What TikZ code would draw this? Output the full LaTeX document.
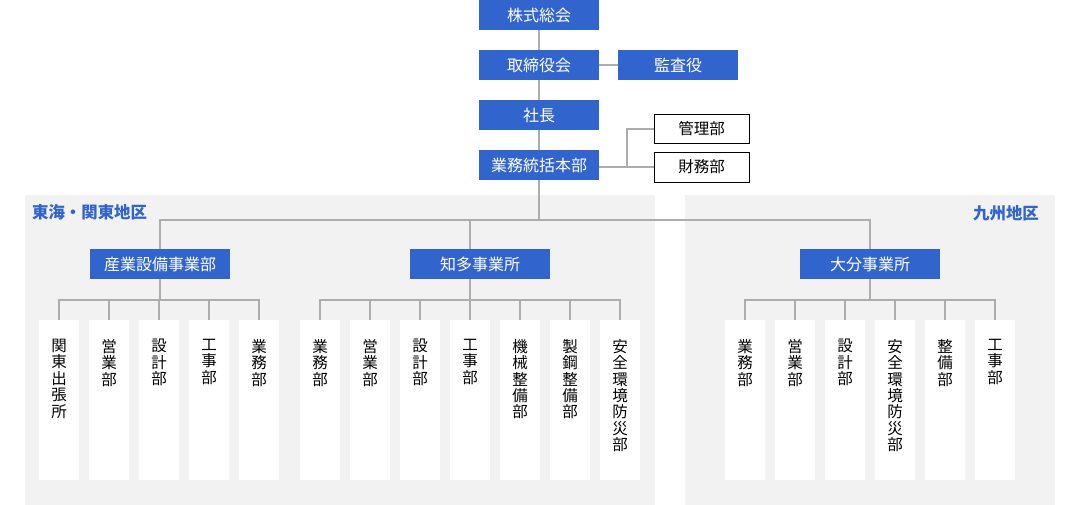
\documentclass[tikz,border=0pt]{standalone}
\usepackage{fontspec}
\newfontfamily\cjk{Noto Sans CJK JP}
\definecolor{boxblue}{RGB}{50,100,205}
\definecolor{regiongray}{RGB}{242,242,242}
\definecolor{linegray}{RGB}{173,173,173}
\pgfdeclarelayer{bg}
\pgfdeclarelayer{ln}
\pgfsetlayers{bg,ln,main}
\newcommand\kidtext[1]{\parbox[t][160pt][t]{40pt}{\centering\vspace*{19pt}#1}}
\tikzset{
  bluebox/.style={fill=boxblue, text=white, inner sep=0pt, minimum width=120pt,
    minimum height=30pt, font=\cjk\fontsize{16}{19}\selectfont},
  whitebox/.style={fill=white, draw=black, line width=0.8pt, inner sep=0pt,
    minimum width=95pt, minimum height=29pt, font=\cjk\fontsize{15.5}{18}\selectfont},
  kid/.style={fill=white, inner sep=0pt, anchor=north, minimum width=40pt,
    minimum height=160pt, font=\cjk\fontsize{15.5}{16.4}\selectfont},
  region/.style={fill=regiongray},
  regionlabel/.style={text=boxblue, inner sep=0pt, font=\cjk\bfseries\fontsize{16.4}{19}\selectfont},
  conn/.style={draw=linegray, line width=1.2pt}
}
\begin{document}
\begin{tikzpicture}[x=1pt,y=-1pt]
\useasboundingbox (0,0) rectangle (1080,505);
\begin{pgfonlayer}{bg}
  \fill[region] (25,195) rectangle (655,505);
  \fill[region] (685,195) rectangle (1055,505);
\end{pgfonlayer}

% top chain
\node[bluebox] (gm) at (539,15) {株式総会};
\node[bluebox] (bod) at (539,65) {取締役会};
\node[bluebox] (aud) at (678,65) {監査役};
\node[bluebox] (pres) at (539,115) {社長};
\node[bluebox] (hq) at (539,165) {業務統括本部};
\node[whitebox] (kanri) at (701.5,129) {管理部};
\node[whitebox, minimum height=30pt] (zaimu) at (701.5,167) {財務部};

% region labels
\node[regionlabel, anchor=west] (lblE) at (32,212) {東海・関東地区};
\node[regionlabel, anchor=east] (lblK) at (1039,213) {九州地区};

% divisions
\node[bluebox, minimum width=140pt] (sangyo) at (160,264) {産業設備事業部};
\node[bluebox, minimum width=140pt] (chita) at (480,264) {知多事業所};
\node[bluebox, minimum width=140pt] (oita) at (870,264) {大分事業所};

% left group
\node[kid] (a1) at (59,320) {\kidtext{関\\東\\出\\張\\所}};
\node[kid] (a2) at (109,320) {\kidtext{営\\業\\部}};
\node[kid] (a3) at (159,320) {\kidtext{設\\計\\部}};
\node[kid] (a4) at (209,320) {\kidtext{工\\事\\部}};
\node[kid] (a5) at (259,320) {\kidtext{業\\務\\部}};

% middle group
\node[kid] (b1) at (320,320) {\kidtext{業\\務\\部}};
\node[kid] (b2) at (370,320) {\kidtext{営\\業\\部}};
\node[kid] (b3) at (420,320) {\kidtext{設\\計\\部}};
\node[kid] (b4) at (470,320) {\kidtext{工\\事\\部}};
\node[kid] (b5) at (520,320) {\kidtext{機\\械\\整\\備\\部}};
\node[kid] (b6) at (570,320) {\kidtext{製\\鋼\\整\\備\\部}};
\node[kid] (b7) at (620,320) {\kidtext{安\\全\\環\\境\\防\\災\\部}};

% right group
\node[kid] (c1) at (745,320) {\kidtext{業\\務\\部}};
\node[kid] (c2) at (795,320) {\kidtext{営\\業\\部}};
\node[kid] (c3) at (845,320) {\kidtext{設\\計\\部}};
\node[kid] (c4) at (895,320) {\kidtext{安\\全\\環\\境\\防\\災\\部}};
\node[kid] (c5) at (945,320) {\kidtext{整\\備\\部}};
\node[kid] (c6) at (995,320) {\kidtext{工\\事\\部}};

\coordinate (hub) at (539,220);
\coordinate (fork) at (627,167);
\coordinate (chitaTop) at (470,220);

\begin{pgfonlayer}{ln}
  \draw[conn] (gm.south) -- (bod.north);
  \draw[conn] (bod.south) -- (pres.north);
  \draw[conn] (pres.south) -- (hq.north);
  \draw[conn] (bod.east) -- (aud.west);
  \draw[conn] (hq.east |- zaimu.west) -- (zaimu.west);
  \draw[conn] (fork) |- (kanri.west);
  \draw[conn] (hq.south) -- (hub);
  \draw[conn] (sangyo.north) |- (oita.north |- hub) -- (oita.north);
  \draw[conn] (chitaTop) -- (b4.north);
  % left children
  \draw[conn] (sangyo.south) -- ++(0,21);
  \draw[conn] (a1.north) -- ++(0,-20) -| (a5.north);
  \foreach \k in {a2,a3,a4} \draw[conn] (\k.north) -- ++(0,-20);
  % middle children
  \draw[conn] (b1.north) -- ++(0,-20) -| (b7.north);
  \foreach \k in {b2,b3,b5,b6} \draw[conn] (\k.north) -- ++(0,-20);
  % right children
  \draw[conn] (oita.south) -- ++(0,21);
  \draw[conn] (c1.north) -- ++(0,-20) -| (c6.north);
  \foreach \k in {c2,c3,c4,c5} \draw[conn] (\k.north) -- ++(0,-20);
\end{pgfonlayer}
\end{tikzpicture}
\end{document}
